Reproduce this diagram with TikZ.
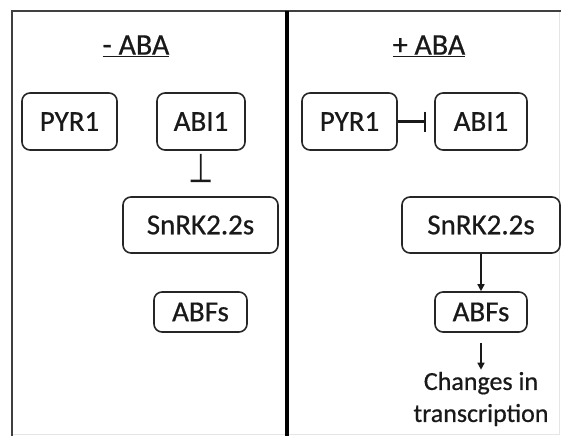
\documentclass[tikz,border=0pt]{standalone}
\usepackage{fontspec}
\setmainfont{Carlito}[FakeBold=0.6]
\usetikzlibrary{arrows.meta}
\begin{document}
\begin{tikzpicture}[x=1pt,y=-1pt,
  box/.style={draw=black!85, line width=1.6pt, rounded corners=8pt, inner sep=0pt,
    minimum height=57pt, font=\fontsize{29}{32}\selectfont, text=black!90},
  title/.style={font=\fontsize{30}{34}\selectfont, text=black!90, inner sep=0pt},
  caption/.style={font=\fontsize{26}{32}\selectfont, text=black!90, inner sep=0pt, align=center},
  act/.style={draw=black!90, line width=1.5pt, -{Triangle[length=7pt,width=7pt]}},
  inh/.style={draw=black!90, line width=2.4pt, -{Bar[width=20pt,line width=2.6pt]}}]
\useasboundingbox (0,0) rectangle (561,436);
% frame
\draw[black!10, line width=1pt] (559,11) -- (559,434) -- (12,434);
\draw[black!75, line width=1.6pt] (12,436) -- (12,11) -- (561,11);
\draw[black, line width=3.5pt] (287,11) -- (287,436);
% titles
\node[title] (tL) at (136,46) {\underline{- ABA}};
\node[title] (tR) at (429,46) {\underline{+ ABA}};
% left panel
\node[box, minimum width=95pt] (pyrL) at (69.5,121.5) {PYR1};
\node[box, minimum width=88pt] (abiL) at (201,121.5) {ABI1};
\node[box, minimum width=155pt, minimum height=56pt] (snL) at (200.5,225) {SnRK2.2s};
\node[box, minimum width=93pt, minimum height=40pt] (abfL) at (200.5,312) {ABFs};
\draw[inh, line width=1.8pt, shorten <=3pt, shorten >=14pt] (abiL) -- (snL);
% right panel
\node[box, minimum width=95pt] (pyrR) at (349.5,121.5) {PYR1};
\node[box, minimum width=92pt] (abiR) at (481,121.5) {ABI1};
\node[box, minimum width=158pt, minimum height=56pt] (snR) at (481,225) {SnRK2.2s};
\node[box, minimum width=92pt, minimum height=40pt] (abfR) at (481,312) {ABFs};
\node[caption] (chg) at (481,399) {Changes in\\transcription};
\draw[inh, shorten >=8pt] (pyrR) -- (abiR);
\draw[act] (snR) -- (abfR);
\draw[act, shorten <=10pt, shorten >=2pt] (abfR) -- (chg);
\end{tikzpicture}
\end{document}
